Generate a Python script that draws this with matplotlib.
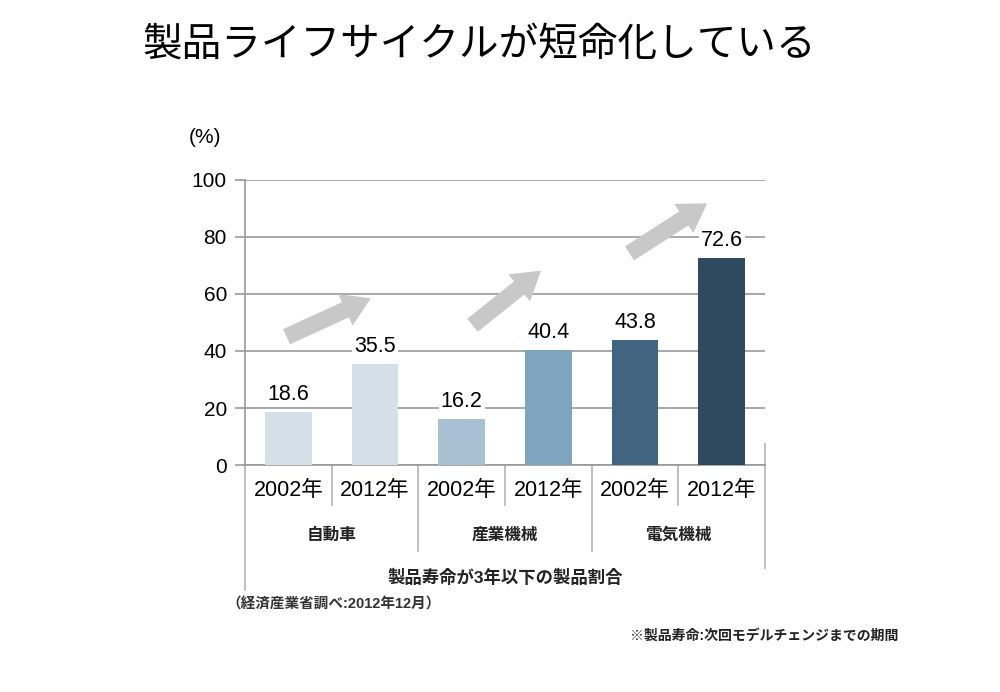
import matplotlib
matplotlib.use("Agg")
import matplotlib.pyplot as plt
from matplotlib.patches import FancyArrowPatch

plt.rcParams['font.family'] = ['Liberation Sans', 'Noto Sans CJK JP', 'DejaVu Sans']

# data
years = ["2002年", "2012年", "2002年", "2012年", "2002年", "2012年"]
groups = ["自動車", "産業機械", "電気機械"]
values = [18.6, 35.5, 16.2, 40.4, 43.8, 72.6]
bar_colors = ["#d4dfe7", "#d4dfe7", "#a9c0d3", "#7ea4bf", "#416580", "#2f4a5f"]
yticks = [0, 20, 40, 60, 80, 100]

title = "製品ライフサイクルが短命化している"
xlabel = "製品寿命が3年以下の製品割合"
source = "（経済産業省調べ:2012年12月）"
note = "※製品寿命:次回モデルチェンジまでの期間"

# decorative trend arrows (tail, head) in data coords
arrows = [((-0.05, 44.6), (0.98, 58.9)),
          ((2.1, 48.4), (2.94, 68.8)),
          ((3.91, 73.7), (4.86, 92.3))]

fig = plt.figure(figsize=(10, 6.92), dpi=100)
ax = fig.add_axes([0.245, 0.328, 0.52, 0.412])

grid_c = "#999999"
sep_c = "#b4b4b4"
x = list(range(len(values)))
ax.bar(x, values, width=0.54, color=bar_colors, zorder=3)
ax.set_xlim(-0.5, 5.5)
ax.set_ylim(0, 100)
ax.set_yticks(yticks)
ax.set_yticklabels([str(t) for t in yticks], fontsize=15)
ax.tick_params(axis='y', length=7, width=1.2, color=grid_c, pad=6)
ax.set_xticks([])
ax.yaxis.grid(True, color=grid_c, linewidth=1.2, zorder=0)
for s in ["top", "right"]:
    ax.spines[s].set_visible(False)
for s in ["left", "bottom"]:
    ax.spines[s].set_color(grid_c)
    ax.spines[s].set_linewidth(1.2)

for xi, v in zip(x, values):
    ax.annotate(f"{v:.1f}", (xi, v), xytext=(0, 5), textcoords="offset points",
                ha="center", va="bottom", fontsize=15.5, zorder=4,
                bbox=dict(boxstyle="square,pad=0.1", fc="white", ec="none"))

for tail, head in arrows:
    ax.add_patch(FancyArrowPatch(tail, head, mutation_scale=10, color="#c8c8c8",
                                 arrowstyle="simple,head_width=2.5,head_length=2.0,tail_width=1.2",
                                 zorder=2, linewidth=0))

# category separators below the axis
tr = ax.get_xaxis_transform()
lk = dict(color=sep_c, linewidth=1.2, clip_on=False, transform=tr)
for xs in [0.5, 2.5, 4.5]:
    ax.plot([xs, xs], [0, -0.14], **lk)
for xs in [1.5, 3.5]:
    ax.plot([xs, xs], [0, -0.30], **lk)
ax.plot([-0.5, -0.5], [0, -0.44], **lk)
ax.plot([5.5, 5.5], [-0.36, 0.072], **lk)

for xi, yl in zip(x, years):
    ax.text(xi, -0.088, yl, transform=tr, ha="center", va="center", fontsize=15.5)
for gi, g in enumerate(groups):
    ax.text(2 * gi + 0.5, -0.246, g, transform=tr, ha="center", va="center",
            fontsize=12, fontweight="bold", color="#222222")
ax.text(2.5, -0.393, xlabel, transform=tr, ha="center", va="center", fontsize=12.5,
        fontweight="bold", color="#222222")

fig.text(0.143, 0.935, title, ha="left", va="center", fontsize=28.5,
         family=['Noto Sans CJK JP', 'DejaVu Sans'])
fig.text(0.205, 0.802, "(%)", ha="center", va="center", fontsize=15)
fig.text(0.226, 0.127, source, ha="left", va="center", fontsize=10.5,
         fontweight="bold", color="#333333")
fig.text(0.63, 0.082, note, ha="left", va="center", fontsize=10, fontweight="bold",
         color="#222222")

fig.savefig("out.png", dpi=100)
